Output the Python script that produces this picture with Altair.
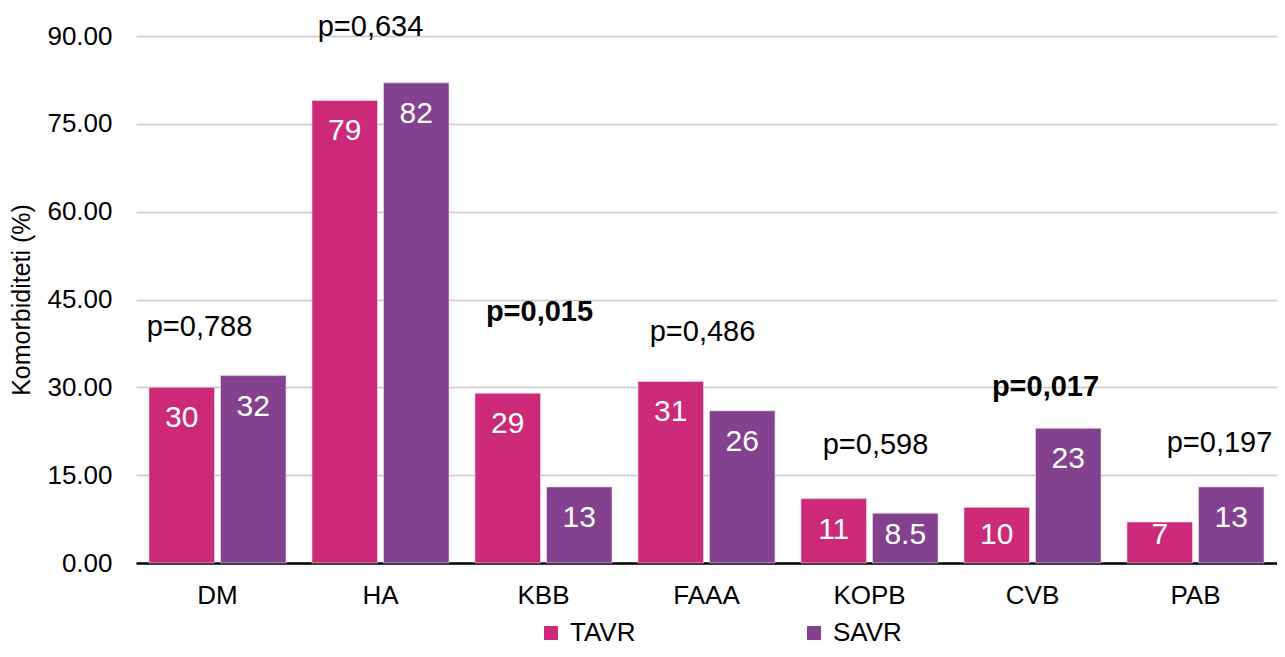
import altair as alt
import pandas as pd

categories = ["DM", "HA", "KBB", "FAAA", "KOPB", "CVB", "PAB"]
series = ["TAVR", "SAVR"]
tavr = [30, 79, 29, 31, 11, 9.5, 7]
savr = [32, 82, 13, 26, 8.5, 23, 13]
tavr_labels = ["30", "79", "29", "31", "11", "10", "7"]
savr_labels = ["32", "82", "13", "26", "8.5", "23", "13"]
p_values = ["p=0,788", "p=0,634", "p=0,015", "p=0,486", "p=0,598", "p=0,017", "p=0,197"]
p_bold = [False, False, True, False, False, True, False]

# layout of the p-value annotations (anchor height in axis units, nudge in px)
p_label_y = [40.3, 91.5, 42.9, 39.4, 20.1, 30.1, 20.5]
p_label_dx = [-18, -10, -4, -4, 6, 13, 24]

rows = []
for i, c in enumerate(categories):
    rows.append(dict(cat=c, series="TAVR", value=tavr[i], label=tavr_labels[i]))
    rows.append(dict(cat=c, series="SAVR", value=savr[i], label=savr_labels[i]))
df = pd.DataFrame(rows)

W, H = 1141, 527
FONT = "Liberation Sans"
YTITLE = "Komorbiditeti (%)"

x_enc = alt.X(
    "cat:N", sort=categories,
    scale=alt.Scale(paddingInner=0.159, paddingOuter=0.0795),
    axis=alt.Axis(title=None, labelAngle=0, labelFontSize=26, labelPadding=19,
                  ticks=False, domainColor="black", domainWidth=2.5,
                  labelColor="black", grid=False),
)
y_scale = alt.Scale(domain=[0, 90], nice=False)
y_axis = alt.Axis(values=[0, 15, 30, 45, 60, 75, 90], format=".2f", title=YTITLE,
                  titleFontSize=25, titleFontWeight="normal", titlePadding=12,
                  titleColor="black", labelColor="black",
                  labelFontSize=26, labelPadding=24, ticks=False, domain=False,
                  gridColor="#c8c8c8", gridWidth=1.3)
xo_enc = alt.XOffset("series:N", sort=series,
                     scale=alt.Scale(paddingInner=0.0833, paddingOuter=0))
color_enc = alt.Color(
    "series:N", sort=series,
    scale=alt.Scale(domain=series, range=["#CC2979", "#84418F"]),
    legend=alt.Legend(title=None, orient="none", legendX=402, legendY=584,
                      direction="horizontal", symbolType="square", symbolSize=196,
                      labelFontSize=26, labelOffset=6, columnPadding=165,
                      symbolStrokeWidth=0, padding=0, labelColor="black"),
)

base = alt.Chart(df)
bars = base.mark_bar(stroke="#f3e6ee", strokeWidth=0.6).encode(
    x=x_enc, xOffset=xo_enc,
    y=alt.Y("value:Q", scale=y_scale, axis=y_axis, title=YTITLE),
    color=color_enc,
)
bar_text = base.transform_calculate(ly="max(datum.value, 10.1)").mark_text(
    color="white", fontSize=30, dy=31, baseline="middle", align="center"
).encode(
    x=x_enc, xOffset=xo_enc,
    y=alt.Y("ly:Q", scale=y_scale, axis=y_axis, title=YTITLE),
    text="label:N",
)

layers = [bars, bar_text]
for i, c in enumerate(categories):
    pdf = pd.DataFrame({"cat": [c], "py": [p_label_y[i]], "t": [p_values[i]]})
    layers.append(
        alt.Chart(pdf).mark_text(
            fontSize=29, dx=p_label_dx[i], baseline="middle", align="center",
            color="black", fontWeight="bold" if p_bold[i] else "normal",
        ).encode(
            x=x_enc,
            y=alt.Y("py:Q", scale=y_scale, axis=y_axis, title=YTITLE),
            text="t:N",
        )
    )

chart = alt.layer(*layers).properties(
    width=W, height=H,
    padding={"left": 128, "top": 28, "right": 0, "bottom": 86},
    autosize=alt.AutoSizeParams(type="none"),
).configure(font=FONT).configure_view(stroke=None)

chart.save("out.html", embed_options={"renderer": "svg", "actions": False})
